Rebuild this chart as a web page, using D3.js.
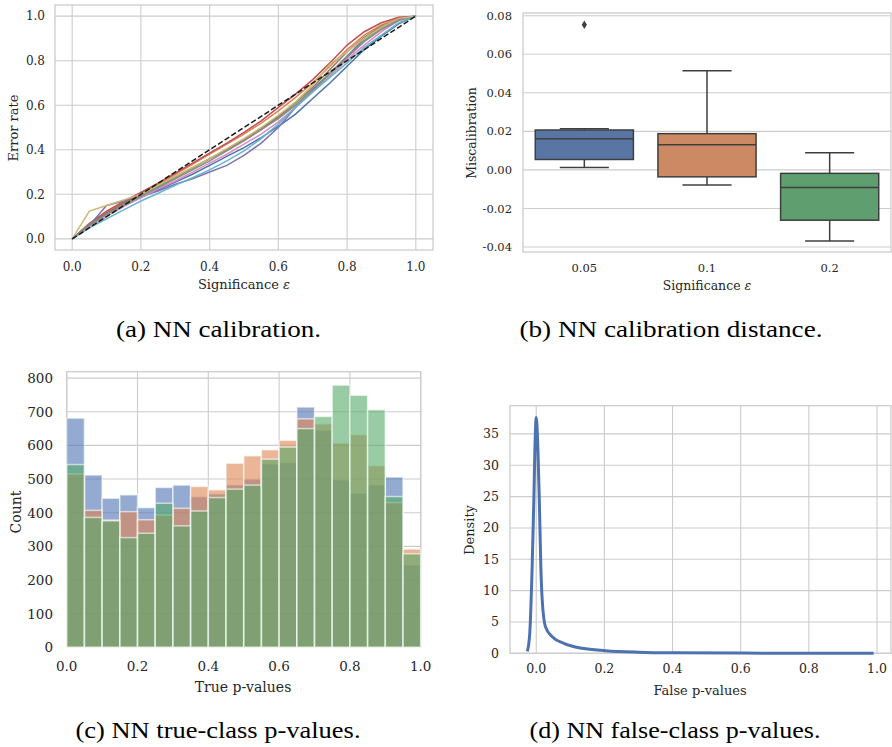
<!DOCTYPE html>
<html>
<head>
<meta charset="utf-8">
<script src="https://cdn.jsdelivr.net/npm/d3@7"></script>
<style>
  body { margin: 0; background: #fff; }
  text { font-family: "DejaVu Serif", serif; fill: #262626; }
  .caption { font-family: "Liberation Serif", "Times New Roman", Tinos, "Nimbus Roman", "DejaVu Serif"; fill: #000; font-size: 24px; }
  .grid { stroke: #cccccc; stroke-width: 1.1; }
  .frame { fill: none; stroke: #cccccc; stroke-width: 1.3; }
</style>
</head>
<body>
<script>

// (a) error rate vs significance, one curve per run
var sig = [0, 0.05, 0.1, 0.15, 0.2, 0.25, 0.3, 0.35, 0.4, 0.45, 0.5, 0.55, 0.6, 0.65, 0.7, 0.75, 0.8, 0.85, 0.9, 0.95, 1.0];
var errBlue   = [0, .060, .110, .150, .185, .220, .255, .290, .330, .370, .410, .455, .505, .560, .630, .700, .775, .850, .910, .965, 1];
var errOrange = [0, .070, .120, .165, .205, .245, .290, .335, .380, .425, .470, .520, .575, .635, .700, .775, .850, .915, .960, .990, 1];
var errGreen  = [0, .065, .115, .155, .195, .235, .275, .315, .360, .400, .445, .490, .545, .600, .670, .745, .820, .890, .945, .985, 1];
var errRed    = [0, .068, .125, .168, .208, .250, .295, .340, .385, .430, .478, .530, .590, .650, .715, .790, .870, .930, .970, .995, 1];
var errPurple = [0, .060, .150, .170, .190, .215, .245, .270, .300, .330, .375, .430, .500, .590, .670, .740, .820, .900, .950, .990, 1];
var errBrown  = [0, .065, .115, .160, .200, .240, .280, .320, .360, .400, .445, .495, .550, .610, .680, .760, .840, .905, .955, .985, 1];
var errPink   = [0, .050, .100, .145, .185, .225, .260, .300, .340, .380, .425, .470, .525, .590, .660, .730, .805, .870, .930, .980, 1];
var errGray   = [0, .060, .110, .150, .190, .230, .270, .310, .350, .395, .440, .490, .540, .600, .665, .740, .815, .885, .940, .980, 1];
var errOlive  = [0, .125, .150, .175, .200, .240, .280, .320, .360, .405, .450, .500, .555, .615, .690, .785, .840, .900, .950, .990, 1];
var errCyan   = [0, .050, .090, .130, .170, .205, .240, .275, .310, .350, .395, .450, .515, .590, .660, .725, .790, .860, .915, .970, 1];

// (b) miscalibration box stats per significance level
var boxLabels   = ["0.05", "0.1", "0.2"];
var boxLow      = [0.0013, -0.0079, -0.0369];
var boxQ1       = [0.0054, -0.0036, -0.0261];
var boxMed      = [0.0162, 0.0131, -0.0091];
var boxQ3       = [0.0207, 0.0188, -0.0018];
var boxHigh     = [0.0214, 0.0514, 0.0089];
var boxOutliers = [[0.0753], [], []];

// (c) true-class p-value histograms, 20 bins of width 0.05
var binStart   = [0, 0.05, 0.1, 0.15, 0.2, 0.25, 0.3, 0.35, 0.4, 0.45, 0.5, 0.55, 0.6, 0.65, 0.7, 0.75, 0.8, 0.85, 0.9, 0.95];
var histBlue   = [681, 512, 443, 453, 415, 475, 482, 448, 456, 483, 500, 545, 549, 714, 645, 498, 458, 483, 506, 245];
var histOrange = [515, 407, 378, 403, 379, 393, 413, 478, 468, 547, 569, 587, 615, 679, 664, 607, 632, 540, 430, 292];
var histGreen  = [543, 386, 376, 326, 339, 428, 361, 405, 445, 470, 482, 559, 595, 650, 686, 779, 749, 706, 448, 278];

// (d) false-class p-value density
var kdeX = [-0.026, -0.019, -0.012, -0.007, -0.004, 0.0, 0.002, 0.005, 0.009, 0.0135, 0.0175, 0.027, 0.047, 0.081, 0.135, 0.203, 0.3, 0.4, 0.6, 0.8, 0.99];
var kdeY = [0.3, 3.2, 13.8, 24.5, 32.4, 37.6, 36.5, 32.4, 24.5, 13.8, 8.5, 4.25, 2.65, 1.6, 0.8, 0.42, 0.18, 0.08, 0.03, 0.015, 0.01];

var svg = d3.select("body").append("svg")
    .attr("width", 892)
    .attr("height", 747);

svg.append("rect").attr("width", 892).attr("height", 747).attr("fill", "#fff");

var f1 = d3.format(".1f");

// grid, frame, tick labels and axis titles for one panel
function axes(g, x, y, o) {
  var xr = x.range(), yr = y.range();
  var xpos = x.bandwidth ? function(d) { return x(d) + x.bandwidth() / 2; } : x;

  if (o.xGrid) {
    g.selectAll(null).data(o.xTicks).enter().append("line")
      .attr("class", "grid")
      .attr("x1", xpos).attr("x2", xpos)
      .attr("y1", yr[0]).attr("y2", yr[1]);
  }
  g.selectAll(null).data(o.yTicks).enter().append("line")
    .attr("class", "grid")
    .attr("x1", xr[0]).attr("x2", xr[1])
    .attr("y1", y).attr("y2", y);

  g.append("rect").attr("class", "frame")
    .attr("x", xr[0]).attr("y", yr[1])
    .attr("width", xr[1] - xr[0]).attr("height", yr[0] - yr[1]);

  g.selectAll(null).data(o.xTicks).enter().append("text")
    .attr("x", xpos).attr("y", o.xTickTop).attr("dy", "0.76em")
    .attr("text-anchor", "middle")
    .style("font-size", o.fs + "px")
    .text(o.xFmt);
  g.selectAll(null).data(o.yTicks).enter().append("text")
    .attr("x", o.yTickRight).attr("y", y).attr("dy", "0.36em")
    .attr("text-anchor", "end")
    .style("font-size", o.fs + "px")
    .text(o.yFmt);

  var xl = g.append("text")
    .attr("x", o.xLabel[1]).attr("y", o.xLabel[2])
    .attr("text-anchor", "middle")
    .style("font-size", o.lfs + "px")
    .text(o.xLabel[0]);
  if (o.eps) xl.append("tspan").style("font-style", "italic").text("\u03b5");

  g.append("text")
    .attr("transform", "translate(" + o.yLabel[1] + "," + o.yLabel[2] + ") rotate(-90)")
    .attr("text-anchor", "middle")
    .style("font-size", o.lfs + "px")
    .text(o.yLabel[0]);
}

function caption(txt, cx, base, w) {
  svg.append("text").attr("class", "caption")
    .attr("x", cx - w / 2).attr("y", base)
    .attr("textLength", w).attr("lengthAdjust", "spacingAndGlyphs")
    .text(txt);
}

// ---------- (a) ----------
var ga = svg.append("g");
var xa = d3.scaleLinear().domain([-0.05, 1.05]).range([55, 433]);
var ya = d3.scaleLinear().domain([-0.05, 1.05]).range([250, 5]);
var ticks01 = [0, 0.2, 0.4, 0.6, 0.8, 1.0];

axes(ga, xa, ya, {
  xGrid: true, xTicks: ticks01, yTicks: ticks01, xFmt: f1, yFmt: f1, fs: 12, lfs: 13,
  xTickTop: 262, yTickRight: 45,
  xLabel: ["Significance ", 244, 289], eps: true,
  yLabel: ["Error rate", 18, 128]
});

var calib = [
  {c: "#4c72b0", v: errBlue}, {c: "#dd8452", v: errOrange}, {c: "#55a868", v: errGreen},
  {c: "#c44e52", v: errRed}, {c: "#8172b3", v: errPurple}, {c: "#937860", v: errBrown},
  {c: "#da8bc3", v: errPink}, {c: "#8c8c8c", v: errGray}, {c: "#ccb974", v: errOlive},
  {c: "#64b5cd", v: errCyan}
];

var lineA = d3.line()
    .x(function(d, i) { return xa(sig[i]); })
    .y(function(d) { return ya(d); });

ga.selectAll(".calib").data(calib).enter().append("path")
  .attr("class", "calib")
  .attr("d", function(d) { return lineA(d.v); })
  .attr("fill", "none")
  .attr("stroke", function(d) { return d.c; })
  .attr("stroke-width", 1.5);

ga.append("path")
  .attr("d", lineA(sig))
  .attr("fill", "none")
  .attr("stroke", "#1a1a1a")
  .attr("stroke-width", 1.5)
  .attr("stroke-dasharray", "5.5,2.4");

// ---------- (b) ----------
var gb = svg.append("g");
var xb = d3.scaleBand().domain(boxLabels).range([523, 891]);
var yb = d3.scaleLinear().domain([-0.0426, 0.0814]).range([252, 13]);
var fb = d3.format(".2f");

axes(gb, xb, yb, {
  xGrid: false, xTicks: boxLabels, yTicks: [-0.04, -0.02, 0, 0.02, 0.04, 0.06, 0.08],
  xFmt: function(d) { return d; },
  yFmt: function(d) { return fb(d).replace("\u2212", "-"); },
  fs: 11.5, lfs: 12.5, xTickTop: 263, yTickRight: 512,
  xLabel: ["Significance ", 707, 290], eps: true,
  yLabel: ["Miscalibration", 476, 133]
});

var boxColors = ["#5975a4", "#cc8963", "#5f9e6e"];
var bw = xb.bandwidth() * 0.8;
var lineCol = "#3f3f3f";

boxLabels.forEach(function(lab, i) {
  var cx = xb(lab) + xb.bandwidth() / 2;
  var g = gb.append("g").attr("stroke", lineCol).attr("stroke-width", 1.5);
  g.append("line").attr("x1", cx).attr("x2", cx).attr("y1", yb(boxQ1[i])).attr("y2", yb(boxLow[i]));
  g.append("line").attr("x1", cx).attr("x2", cx).attr("y1", yb(boxQ3[i])).attr("y2", yb(boxHigh[i]));
  g.append("line").attr("x1", cx - bw / 4).attr("x2", cx + bw / 4).attr("y1", yb(boxLow[i])).attr("y2", yb(boxLow[i]));
  g.append("line").attr("x1", cx - bw / 4).attr("x2", cx + bw / 4).attr("y1", yb(boxHigh[i])).attr("y2", yb(boxHigh[i]));
  g.append("rect")
    .attr("x", cx - bw / 2).attr("width", bw)
    .attr("y", yb(boxQ3[i])).attr("height", yb(boxQ1[i]) - yb(boxQ3[i]))
    .attr("fill", boxColors[i]);
  g.append("line").attr("x1", cx - bw / 2).attr("x2", cx + bw / 2).attr("y1", yb(boxMed[i])).attr("y2", yb(boxMed[i]));
  boxOutliers[i].forEach(function(v) {
    gb.append("path")
      .attr("d", "M0,-4.2L2.6,0L0,4.2L-2.6,0Z")
      .attr("transform", "translate(" + cx + "," + yb(v) + ")")
      .attr("fill", lineCol);
  });
});

// ---------- (c) ----------
var gc = svg.append("g");
var xc = d3.scaleLinear().domain([0, 1]).range([66.7, 420.7]);
var yc = d3.scaleLinear().domain([0, 819]).range([647.3, 371.7]);

axes(gc, xc, yc, {
  xGrid: true, xTicks: ticks01, yTicks: [0, 100, 200, 300, 400, 500, 600, 700, 800],
  xFmt: f1, yFmt: d3.format("d"), fs: 13.5, lfs: 14,
  xTickTop: 661, yTickRight: 53,
  xLabel: ["True p-values", 243, 692],
  yLabel: ["Count", 21, 512]
});

var hist = [
  {c: "#4c72b0", v: histBlue}, {c: "#dd8452", v: histOrange}, {c: "#55a868", v: histGreen}
];

hist.forEach(function(h) {
  gc.append("g").selectAll("rect").data(h.v).enter().append("rect")
    .attr("x", function(d, i) { return xc(binStart[i]); })
    .attr("width", function(d, i) { return xc(binStart[i] + 0.05) - xc(binStart[i]); })
    .attr("y", function(d) { return yc(d); })
    .attr("height", function(d) { return yc(0) - yc(d); })
    .attr("fill", h.c)
    .attr("fill-opacity", 0.6)
    .attr("stroke", "#fff")
    .attr("stroke-opacity", 0.6)
    .attr("stroke-width", 1.5);
});

// ---------- (d) ----------
var gd = svg.append("g");
var xd = d3.scaleLinear().domain([-0.077, 1.041]).range([510, 891]);
var yd = d3.scaleLinear().domain([0, 39.5]).range([653.3, 405.7]);

axes(gd, xd, yd, {
  xGrid: true, xTicks: ticks01, yTicks: [0, 5, 10, 15, 20, 25, 30, 35],
  xFmt: f1, yFmt: d3.format("d"), fs: 12.5, lfs: 13,
  xTickTop: 663, yTickRight: 499,
  xLabel: ["False p-values", 700, 695],
  yLabel: ["Density", 474, 530]
});

var lineD = d3.line()
    .x(function(d, i) { return xd(kdeX[i]); })
    .y(function(d) { return yd(d); })
    .curve(d3.curveMonotoneX);

gd.append("path")
  .attr("d", lineD(kdeY))
  .attr("fill", "none")
  .attr("stroke", "#4c72b0")
  .attr("stroke-width", 3)
  .attr("stroke-linejoin", "round");

// ---------- captions ----------
caption("(a) NN calibration.", 218.5, 337, 205);
caption("(b) NN calibration distance.", 671, 337, 303);
caption("(c) NN true-class p-values.", 218, 738, 285);
caption("(d) NN false-class p-values.", 675, 738, 291);

</script>
</body>
</html>
